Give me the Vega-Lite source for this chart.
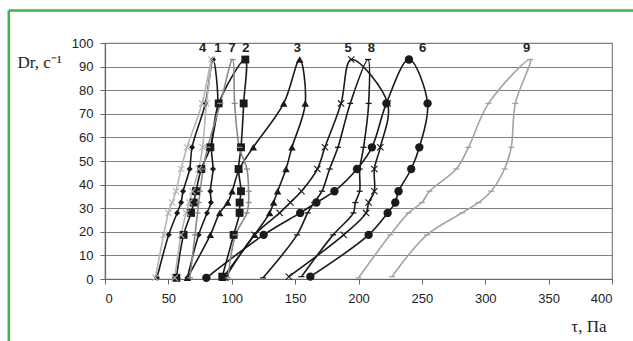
{
"$schema": "https://vega.github.io/schema/vega-lite/v6.json",
"autosize": {"type": "none"},
"width": 507, "height": 236,
"padding": {"left": 105, "top": 43, "right": 21, "bottom": 62},
"background": "white",
"config": {"view": {"stroke": "#808080", "strokeWidth": 1.2}},
"datasets": {
"curves": [
{"s":"1","i":0,"x":41,"y":0.5},{"s":"1","i":1,"x":50.3,"y":18.7},{"s":"1","i":2,"x":56.9,"y":28},{"s":"1","i":3,"x":60,"y":32.4},{"s":"1","i":4,"x":61.6,"y":37.2},{"s":"1","i":5,"x":66.8,"y":46.6},{"s":"1","i":6,"x":68.7,"y":55.8},{"s":"1","i":7,"x":79.2,"y":74.4},{"s":"1","i":8,"x":85.2,"y":93},{"s":"1","i":9,"x":89,"y":74.4},{"s":"1","i":10,"x":84,"y":55.8},{"s":"1","i":11,"x":85.2,"y":46.6},{"s":"1","i":12,"x":83.1,"y":37.2},{"s":"1","i":13,"x":83.6,"y":32.4},{"s":"1","i":14,"x":80.5,"y":28},{"s":"1","i":15,"x":73.9,"y":18.7},{"s":"1","i":16,"x":65,"y":0.5},
{"s":"2","i":0,"x":56.3,"y":0.5},{"s":"2","i":1,"x":62,"y":18.7},{"s":"2","i":2,"x":67.9,"y":28},{"s":"2","i":3,"x":70,"y":32.4},{"s":"2","i":4,"x":71.8,"y":37.2},{"s":"2","i":5,"x":76,"y":46.6},{"s":"2","i":6,"x":83.1,"y":55.8},{"s":"2","i":7,"x":89.7,"y":74.4},{"s":"2","i":8,"x":110.7,"y":93},{"s":"2","i":9,"x":109.4,"y":74.4},{"s":"2","i":10,"x":107.3,"y":55.8},{"s":"2","i":11,"x":105.4,"y":46.6},{"s":"2","i":12,"x":107.3,"y":37.2},{"s":"2","i":13,"x":106.2,"y":32.4},{"s":"2","i":14,"x":106.2,"y":28},{"s":"2","i":15,"x":101.5,"y":18.7},{"s":"2","i":16,"x":92.5,"y":1},
{"s":"3","i":0,"x":65,"y":0.5},{"s":"3","i":1,"x":83.1,"y":18.7},{"s":"3","i":2,"x":90.5,"y":28},{"s":"3","i":3,"x":96.8,"y":32.4},{"s":"3","i":4,"x":100.3,"y":37.2},{"s":"3","i":5,"x":106,"y":46.6},{"s":"3","i":6,"x":117,"y":55.8},{"s":"3","i":7,"x":141,"y":74.4},{"s":"3","i":8,"x":153.6,"y":93},{"s":"3","i":9,"x":158,"y":74.4},{"s":"3","i":10,"x":147.5,"y":55.8},{"s":"3","i":11,"x":142.8,"y":46.6},{"s":"3","i":12,"x":136.2,"y":37.2},{"s":"3","i":13,"x":133,"y":32.4},{"s":"3","i":14,"x":129.9,"y":28},{"s":"3","i":15,"x":118,"y":18.7},{"s":"3","i":16,"x":93,"y":0.5},
{"s":"4","i":0,"x":39.7,"y":0.5},{"s":"4","i":1,"x":46.3,"y":18.7},{"s":"4","i":2,"x":50,"y":28},{"s":"4","i":3,"x":53,"y":32.4},{"s":"4","i":4,"x":56,"y":37.2},{"s":"4","i":5,"x":60,"y":46.6},{"s":"4","i":6,"x":64.7,"y":55.8},{"s":"4","i":7,"x":76.6,"y":74.4},{"s":"4","i":8,"x":84,"y":93},{"s":"4","i":9,"x":80,"y":74.4},{"s":"4","i":10,"x":77,"y":55.8},{"s":"4","i":11,"x":74,"y":46.6},{"s":"4","i":12,"x":69,"y":37.2},{"s":"4","i":13,"x":66.5,"y":32.4},{"s":"4","i":14,"x":64,"y":28},{"s":"4","i":15,"x":60,"y":18.7},{"s":"4","i":16,"x":55,"y":0.5},
{"s":"5","i":0,"x":95,"y":0.5},{"s":"5","i":1,"x":118,"y":18.7},{"s":"5","i":2,"x":137.8,"y":28},{"s":"5","i":3,"x":146.2,"y":32.4},{"s":"5","i":4,"x":155,"y":37.2},{"s":"5","i":5,"x":167.5,"y":46.6},{"s":"5","i":6,"x":173.5,"y":55.8},{"s":"5","i":7,"x":186.2,"y":74.4},{"s":"5","i":8,"x":194.3,"y":93},{"s":"5","i":9,"x":223,"y":74.4},{"s":"5","i":10,"x":217.2,"y":55.8},{"s":"5","i":11,"x":212.5,"y":46.6},{"s":"5","i":12,"x":212.5,"y":37.2},{"s":"5","i":13,"x":208,"y":32.4},{"s":"5","i":14,"x":206,"y":28},{"s":"5","i":15,"x":188.3,"y":18.7},{"s":"5","i":16,"x":145,"y":1},
{"s":"6","i":0,"x":80,"y":0.5},{"s":"6","i":1,"x":125.2,"y":18.7},{"s":"6","i":2,"x":154,"y":28},{"s":"6","i":3,"x":166.8,"y":32.4},{"s":"6","i":4,"x":181,"y":37.2},{"s":"6","i":5,"x":198.8,"y":46.6},{"s":"6","i":6,"x":210.6,"y":55.8},{"s":"6","i":7,"x":222,"y":74.4},{"s":"6","i":8,"x":239.8,"y":93},{"s":"6","i":9,"x":254.5,"y":74.4},{"s":"6","i":10,"x":248,"y":55.8},{"s":"6","i":11,"x":241.6,"y":46.6},{"s":"6","i":12,"x":231.6,"y":37.2},{"s":"6","i":13,"x":229,"y":32.4},{"s":"6","i":14,"x":223,"y":28},{"s":"6","i":15,"x":208,"y":18.7},{"s":"6","i":16,"x":162,"y":1},
{"s":"7","i":0,"x":67,"y":0.5},{"s":"7","i":1,"x":71,"y":18.7},{"s":"7","i":2,"x":73,"y":28},{"s":"7","i":3,"x":74,"y":32.4},{"s":"7","i":4,"x":75,"y":37.2},{"s":"7","i":5,"x":77.5,"y":46.6},{"s":"7","i":6,"x":81,"y":55.8},{"s":"7","i":7,"x":91,"y":74.4},{"s":"7","i":8,"x":100.7,"y":93},{"s":"7","i":9,"x":102.3,"y":74.4},{"s":"7","i":10,"x":106,"y":55.8},{"s":"7","i":11,"x":112,"y":46.6},{"s":"7","i":12,"x":113.3,"y":37.2},{"s":"7","i":13,"x":113.3,"y":32.4},{"s":"7","i":14,"x":112,"y":28},{"s":"7","i":15,"x":103,"y":18.7},{"s":"7","i":16,"x":97,"y":0.5},
{"s":"8","i":0,"x":124.7,"y":0.5},{"s":"8","i":1,"x":151.5,"y":18.7},{"s":"8","i":2,"x":159.9,"y":28},{"s":"8","i":3,"x":165,"y":32.4},{"s":"8","i":4,"x":171.2,"y":37.2},{"s":"8","i":5,"x":177.2,"y":46.6},{"s":"8","i":6,"x":183.8,"y":55.8},{"s":"8","i":7,"x":193.5,"y":74.4},{"s":"8","i":8,"x":207.5,"y":93},{"s":"8","i":9,"x":208,"y":74.4},{"s":"8","i":10,"x":204,"y":55.8},{"s":"8","i":11,"x":201,"y":46.6},{"s":"8","i":12,"x":200.9,"y":37.2},{"s":"8","i":13,"x":197.5,"y":32.4},{"s":"8","i":14,"x":196,"y":28},{"s":"8","i":15,"x":180,"y":18.7},{"s":"8","i":16,"x":155,"y":1},
{"s":"9","i":0,"x":200,"y":0.5},{"s":"9","i":1,"x":225,"y":18.7},{"s":"9","i":2,"x":239.5,"y":28},{"s":"9","i":3,"x":250,"y":32.4},{"s":"9","i":4,"x":256,"y":37.2},{"s":"9","i":5,"x":277.1,"y":46.6},{"s":"9","i":6,"x":286.8,"y":55.8},{"s":"9","i":7,"x":302.6,"y":74.4},{"s":"9","i":8,"x":335.5,"y":93},{"s":"9","i":9,"x":323.7,"y":74.4},{"s":"9","i":10,"x":320.5,"y":55.8},{"s":"9","i":11,"x":315.2,"y":46.6},{"s":"9","i":12,"x":304.7,"y":37.2},{"s":"9","i":13,"x":294.7,"y":32.4},{"s":"9","i":14,"x":281.6,"y":28},{"s":"9","i":15,"x":254,"y":18.7},{"s":"9","i":16,"x":226.4,"y":1}
],
"labels": [
{"t":"4","x":77.1,"y":98},{"t":"1","x":89,"y":98},{"t":"7","x":100.3,"y":98},{"t":"2","x":111.1,"y":98},{"t":"3","x":151.7,"y":98},{"t":"5","x":191.8,"y":98},{"t":"8","x":210.1,"y":98},{"t":"6","x":250.5,"y":98},{"t":"9","x":332.6,"y":98}
]
},
"resolve": {"scale": {"x": "independent", "y": "independent"}, "axis": {"x": "independent", "y": "independent"}},
"layer": [
{
"encoding": {
"x": {"field": "x", "type": "quantitative", "scale": {"domain": [0, 400], "nice": false},
"axis": {"values": [0,50,100,150,200,250,300,350,400], "grid": false, "domainColor": "#666", "domainWidth": 1.2, "tickColor": "#666", "tickSize": 5, "labelFont": "Liberation Sans", "labelFontSize": 13, "labelColor": "#222", "labelPadding": 8, "title": "τ, Па", "titleFont": "Liberation Serif", "titleFontSize": 17, "titleFontWeight": "normal", "titleColor": "#222", "titleX": 501, "titleY": 52, "titleAlign": "right", "titleBaseline": "alphabetic"}},
"y": {"field": "y", "type": "quantitative", "scale": {"domain": [0, 100], "nice": false},
"axis": {"values": [0,10,20,30,40,50,60,70,80,90,100], "labelOverlap": false, "grid": true, "gridColor": "#808080", "gridWidth": 1.2, "domainColor": "#666", "domainWidth": 1.2, "tickColor": "#666", "tickSize": 5, "labelFont": "Liberation Sans", "labelFontSize": 13, "labelColor": "#222", "labelPadding": 7, "title": "Dr, c⁻¹", "titleFont": "Liberation Serif", "titleFontSize": 17, "titleFontWeight": "normal", "titleColor": "#222", "titleAngle": 0, "titleX": -88, "titleY": 24, "titleAlign": "left", "titleBaseline": "alphabetic"}},
"color": {"field": "s", "type": "nominal", "legend": null, "scale": {"domain": ["1","2","3","4","5","6","7","8","9"], "range": ["#1a1a1a","#1a1a1a","#1a1a1a","#b5b5b5","#1a1a1a","#1a1a1a","#8a8a8a","#1a1a1a","#a3a3a3"]}}
},
"layer": [
{
"data": {"name": "curves"},
"mark": {"type": "line", "interpolate": "catmull-rom", "strokeWidth": 1.6},
"encoding": {
"detail": {"field": "s"},
"order": {"field": "i", "type": "quantitative"}
}
},
{
"data": {"name": "curves"},
"transform": [{"filter": {"field": "s", "equal": "1"}}],
"mark": {"type": "point", "filled": true, "opacity": 1, "shape": "diamond", "size": 36},
"encoding": {}
},
{
"data": {"name": "curves"},
"transform": [{"filter": {"field": "s", "equal": "2"}}],
"mark": {"type": "point", "filled": true, "opacity": 1, "shape": "square", "size": 62},
"encoding": {}
},
{
"data": {"name": "curves"},
"transform": [{"filter": {"field": "s", "equal": "3"}}],
"mark": {"type": "point", "filled": true, "opacity": 1, "shape": "triangle-up", "size": 56},
"encoding": {}
},
{
"data": {"name": "curves"},
"transform": [{"filter": {"field": "s", "equal": "6"}}],
"mark": {"type": "point", "filled": true, "opacity": 1, "shape": "circle", "size": 70},
"encoding": {}
},
{
"data": {"name": "curves"},
"transform": [{"filter": {"field": "s", "oneOf": ["4","5"]}}],
"mark": {"type": "point", "filled": false, "opacity": 1, "strokeWidth": 1.1, "size": 40, "shape": "M-1,-1L1,1M-1,1L1,-1"},
"encoding": {}
},
{
"data": {"name": "curves"},
"transform": [{"filter": {"field": "s", "oneOf": ["7","8","9"]}}],
"mark": {"type": "point", "filled": false, "opacity": 1, "strokeWidth": 1.3, "size": 36, "shape": "M-1,0L1,0"},
"encoding": {}
},
{
"data": {"name": "labels"},
"mark": {"type": "text", "font": "Liberation Sans", "fontSize": 13, "fontWeight": "bold", "baseline": "middle", "align": "center"},
"encoding": {
"text": {"field": "t"},
"color": {"value": "#222"}
}
}
]
},
{
"data": {"values": [{}]},
"layer": [
{
"mark": {"type": "rule", "color": "#3cb449", "strokeWidth": 2.5},
"encoding": {"x": {"datum": -75.9, "type": "quantitative", "scale": {"domain": [0, 400], "nice": false}, "axis": null}, "y": {"datum": -40, "type": "quantitative", "scale": {"domain": [0, 100], "nice": false}, "axis": null}, "y2": {"datum": 113.8}}
},
{
"mark": {"type": "rule", "color": "#3cb449", "strokeWidth": 2.5},
"encoding": {"x": {"datum": -75.9, "type": "quantitative", "axis": null}, "x2": {"datum": 440}, "y": {"datum": 113.8, "type": "quantitative", "axis": null}}
}
]
}
]
}
